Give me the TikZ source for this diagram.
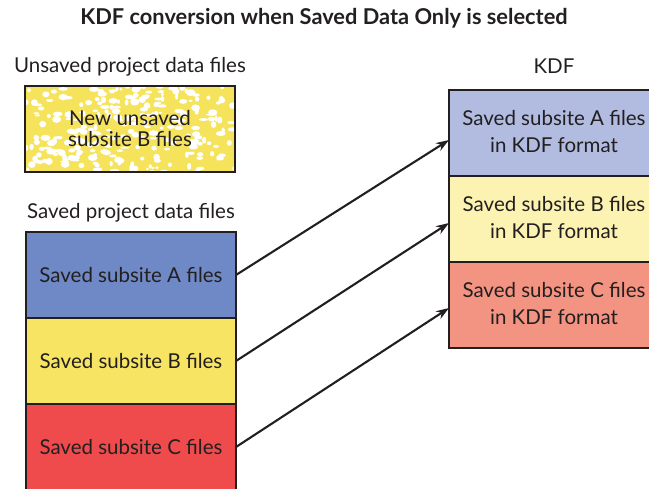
\documentclass[tikz,border=0pt]{standalone}
\usepackage{fontspec}
\setmainfont{Lato}
\usepackage{xcolor}
\usetikzlibrary{positioning, arrows.meta}
\definecolor{ink}{HTML}{231F20}
\definecolor{savedA}{HTML}{6F89C6}
\definecolor{savedB}{HTML}{F8E463}
\definecolor{savedC}{HTML}{EF4B4D}
\definecolor{kdfA}{HTML}{B1BCE0}
\definecolor{kdfB}{HTML}{FCF2B1}
\definecolor{kdfC}{HTML}{F39483}
\definecolor{blob}{HTML}{F6E35C}

\begin{document}
\begin{tikzpicture}[
  x=1pt, y=-1pt,
  font=\fontsize{20.5}{27}\selectfont,
  >={Stealth[length=13pt, width=9pt]},
  filebox/.style={draw=ink, line width=2pt, minimum width=210pt, minimum height=86pt,
                  inner sep=2pt, outer sep=0pt, align=center, text=ink},
  boxtext/.style={align=center, text=ink, inner sep=2pt},
  head/.style={text=ink, inner sep=2pt, text height=15pt, text depth=4pt},
  arr/.style={->, line width=2.1pt, draw=ink},
]
\useasboundingbox (0,0) rectangle (649,489);

% ---------------- title ----------------
\node[head, font=\fontsize{21.8}{26}\selectfont\bfseries] (title) at (324,19) {KDF conversion when Saved Data Only is selected};

% ---------------- unsaved (left top) ----------------
\node[filebox, fill=white] (unsaved) at (130,129) {};
\begin{scope}
  \clip (unsaved.south west) rectangle (unsaved.north east);
  \fill[blob] (unsaved.south west) rectangle (unsaved.north east);
  % speckled texture
  \pgfmathsetseed{7}
  \foreach \i in {1,...,260} {
    \pgfmathsetmacro{\bx}{25+210*rnd}
    \pgfmathsetmacro{\by}{86+86*rnd}
    \pgfmathsetmacro{\bw}{1.5+3.5*rnd}
    \pgfmathsetmacro{\bh}{1+2.5*rnd}
    \fill[white] (\bx,\by) ellipse ({\bw} and {\bh});
  }
\end{scope}
\node[filebox, font=\fontsize{20.5}{21}\selectfont] (unsavedB) at (unsaved) {New unsaved\\subsite B files};
\node[head, above=7pt of unsaved] (unsavedlbl) {Unsaved project data files};

% ---------------- saved (left) ----------------
\node[filebox, fill=savedA] (savedA) at (131,275) {Saved subsite A files};
\node[filebox, fill=savedB, below=0pt of savedA] (savedB) {Saved subsite B files};
\node[filebox, fill=savedC, below=0pt of savedB] (savedC) {Saved subsite C files};
\node[head, above=7pt of savedA] (savedlbl) {Saved project data files};

% ---------------- KDF (right) ----------------
\node[filebox, fill=kdfA, minimum width=240pt, anchor=west] (kdfA) at (449,133) {};
\node[filebox, fill=kdfB, minimum width=240pt, below=0pt of kdfA] (kdfB) {};
\node[filebox, fill=kdfC, minimum width=240pt, below=0pt of kdfB] (kdfC) {};
\node[boxtext] (kdfAtxt) at (554,132) {Saved subsite A files\\in KDF format};
\node[boxtext] (kdfBtxt) at (554,218) {Saved subsite B files\\in KDF format};
\node[boxtext] (kdfCtxt) at (554,304) {Saved subsite C files\\in KDF format};
\node[head, above=10pt of kdfAtxt |- kdfA.north] (kdflbl) {KDF};

% ---------------- conversion arrows ----------------
\draw[arr] (savedA.east) -- ([yshift=-7pt]kdfA.west);
\draw[arr] (savedB.east) -- ([yshift=-4pt]kdfB.west);
\draw[arr] (savedC.east) -- ([yshift=-3pt]kdfC.west);

\end{tikzpicture}
\end{document}
